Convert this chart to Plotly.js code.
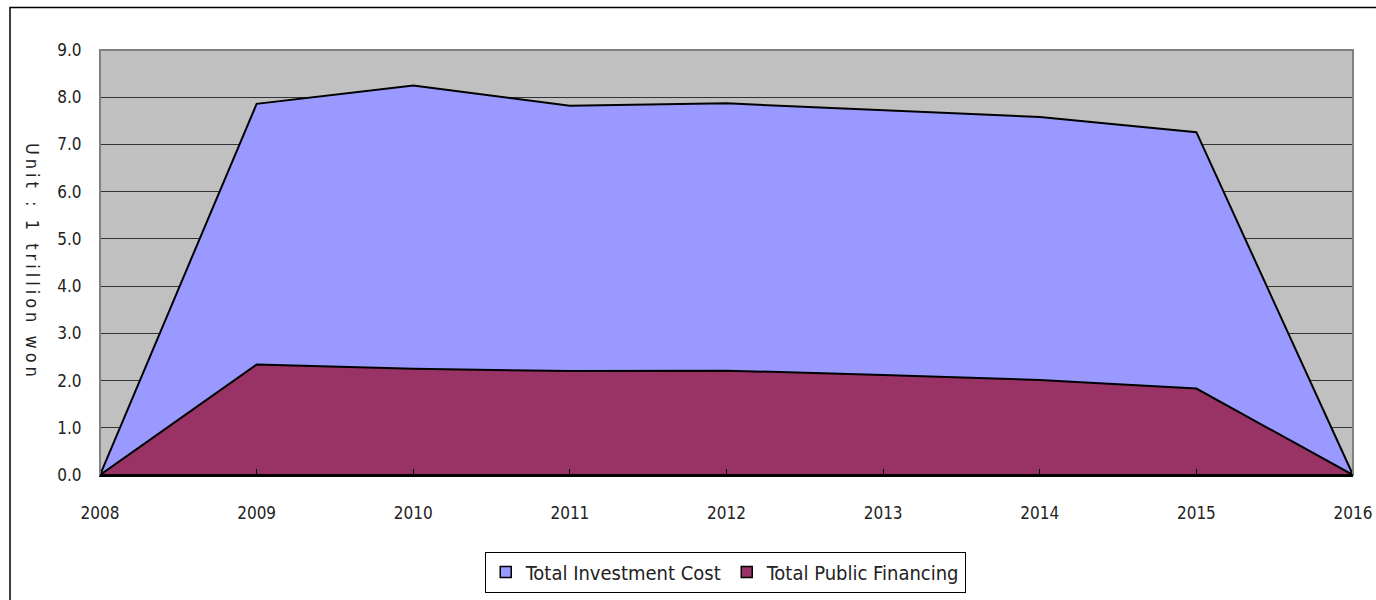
<!DOCTYPE html>
<html>
<head>
<meta charset="utf-8">
<script src="https://cdn.plot.ly/plotly-3.0.1.min.js"></script>
<style>
html, body { margin: 0; padding: 0; background: #fff; }
#chart { width: 1376px; height: 600px; }
.ytitle-spaced { letter-spacing: 4px; }
</style>
</head>
<body>
<div id="chart"></div>
<script>
const years = ['2008', '2009', '2010', '2011', '2012', '2013', '2014', '2015', '2016'];
const totalInvestment = [0, 7.86, 8.25, 7.82, 7.87, 7.72, 7.58, 7.26, 0];
const publicFinancing = [0, 2.34, 2.25, 2.20, 2.21, 2.12, 2.01, 1.83, 0];
const yTickVals = [0, 1, 2, 3, 4, 5, 6, 7, 8, 9];
const yTickText = ['0.0', '1.0', '2.0', '3.0', '4.0', '5.0', '6.0', '7.0', '8.0', '9.0'];
const seriesNames = ['Total Investment Cost', 'Total Public Financing'];
const seriesColors = ['#9999ff', '#993366'];
const yTitle = 'Unit : 1 trillion won';

const FONT = '"Liberation Sans Narrow", "DejaVu Sans Condensed", "Liberation Sans", sans-serif';

const traces = [
  {
    x: years, y: totalInvestment, name: seriesNames[0], showlegend: false,
    type: 'scatter', mode: 'lines', fill: 'tozeroy',
    fillcolor: seriesColors[0], line: { color: '#000000', width: 2 }
  },
  {
    x: years, y: publicFinancing, name: seriesNames[1], showlegend: false,
    type: 'scatter', mode: 'lines', fill: 'tozeroy',
    fillcolor: seriesColors[1], line: { color: '#000000', width: 2 }
  },
  // legend entries (square swatches like the reference)
  {
    x: [null], y: [null], name: seriesNames[0], type: 'scatter', mode: 'markers',
    marker: { symbol: 'square', size: 11, color: seriesColors[0], line: { color: '#000000', width: 1.5 } }
  },
  {
    x: [null], y: [null], name: seriesNames[1], type: 'scatter', mode: 'markers',
    marker: { symbol: 'square', size: 11, color: seriesColors[1], line: { color: '#000000', width: 1.5 } }
  }
];

const layout = {
  width: 1376, height: 600,
  margin: { l: 100, r: 23, t: 50, b: 125, autoexpand: false },
  paper_bgcolor: '#ffffff',
  plot_bgcolor: '#c0c0c0',
  showlegend: true,
  font: { family: FONT, size: 17, color: '#222222' },
  xaxis: {
    type: 'category', range: [0, 8],
    showgrid: false, zeroline: false,
    showline: true, linecolor: '#000000', linewidth: 2,
    ticks: 'inside', ticklen: 6, tickcolor: '#000000', tickwidth: 1,
    tickfont: { family: FONT, size: 17, color: '#222222' },
    ticklabelstandoff: 22
  },
  yaxis: {
    range: [0, 9], tickvals: yTickVals, ticktext: yTickText,
    showgrid: true, gridcolor: '#333333', gridwidth: 1,
    zeroline: false,
    showline: true, linecolor: '#666666', linewidth: 1,
    ticks: 'inside', ticklen: 5, tickcolor: '#333333',
    tickfont: { family: FONT, size: 17, color: '#222222' },
    ticklabelstandoff: 14
  },
  legend: {
    orientation: 'h', x: 0.499, xanchor: 'center', y: -0.18, yanchor: 'top',
    bordercolor: '#000000', borderwidth: 1, bgcolor: '#ffffff',
    font: { family: FONT, size: 20, color: '#222222' },
    itemwidth: 30, tracegroupgap: 0, valign: 'middle'
  },
  shapes: [
    { type: 'rect', xref: 'paper', yref: 'paper',
      x0: 0, x1: 1, y0: 0, y1: 1,
      line: { color: '#808080', width: 2 }, fillcolor: 'rgba(0,0,0,0)', layer: 'above' },
    { type: 'line', xref: 'paper', yref: 'paper',
      x0: 0, x1: 1, y0: 0, y1: 0,
      line: { color: '#000000', width: 2 }, layer: 'above' },
    { type: 'rect', xref: 'paper', yref: 'paper',
      x0: (10 - 100) / 1253, x1: (1390 - 100) / 1253,
      y0: (475 - 620) / 425, y1: (475 - 7.5) / 425,
      line: { color: '#000000', width: 1.5 }, fillcolor: 'rgba(0,0,0,0)', layer: 'below' }
  ],
  annotations: [
    { text: yTitle, xref: 'paper', yref: 'paper',
      x: (33 - 100) / 1253, y: (475 - 262) / 425,
      xanchor: 'center', yanchor: 'middle', showarrow: false,
      textangle: 90, font: { family: FONT, size: 18, color: '#222222' } }
  ]
};

Plotly.newPlot('chart', traces, layout, { displayModeBar: false, staticPlot: true }).then(function (gd) {
  gd.querySelectorAll('.annotation-text').forEach(function (t) { t.classList.add('ytitle-spaced'); });
});
</script>
</body>
</html>
